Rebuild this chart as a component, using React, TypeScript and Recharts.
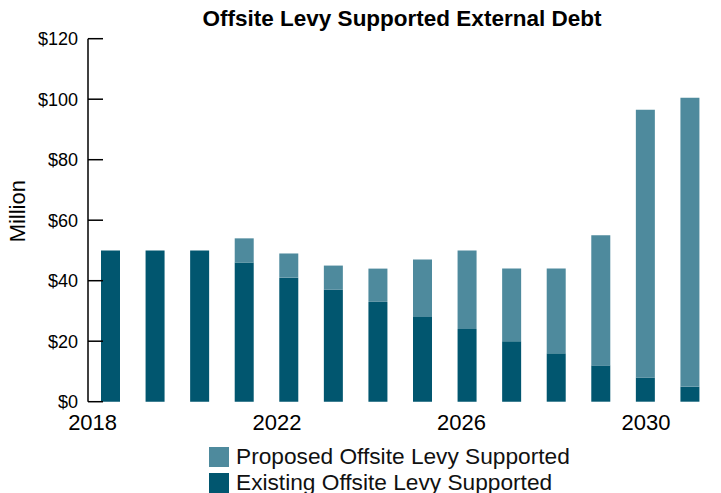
import React from 'react';
import { BarChart, Bar, XAxis, YAxis, Legend } from 'recharts';

const years = [2018, 2019, 2020, 2021, 2022, 2023, 2024, 2025, 2026, 2027, 2028, 2029, 2030, 2031];
const existing = [50, 50, 50, 46, 41, 37, 33, 28, 24, 20, 16, 12, 8, 5];
const proposed = [0, 0, 0, 8, 8, 8, 11, 19, 26, 24, 28, 43, 88.5, 95.5];
const yTicks = [0, 20, 40, 60, 80, 100, 120];
const labelYears = [2018, 2022, 2026, 2030];

const EXISTING = 'Existing Offsite Levy Supported';
const PROPOSED = 'Proposed Offsite Levy Supported';
const legendOrder = [PROPOSED, EXISTING];

const FONT = 'Arial, "Liberation Sans", sans-serif';

const data = years.map((year, i) => ({
  year,
  existing: existing[i],
  proposed: proposed[i],
}));

// tick marks sit between the bars, not under them
const boundaryTicks = years.map((y) => y + 0.5);

function LegendBox({ payload }: any) {
  const items = [...(payload || [])].sort(
    (a: any, b: any) => legendOrder.indexOf(a.value) - legendOrder.indexOf(b.value),
  );
  return (
    <div style={{ fontFamily: FONT, fontSize: 22.7, color: '#111' }}>
      {items.map((p: any) => (
        <div key={p.value} style={{ display: 'flex', alignItems: 'flex-start', height: 25.4, lineHeight: '25.4px', whiteSpace: 'nowrap' }}>
          <span style={{ display: 'inline-block', width: 20, height: 20, marginTop: 3, marginRight: 7, background: p.color }} />
          <span>{p.value}</span>
        </div>
      ))}
    </div>
  );
}

const NoLabel = () => <g />;

function MillionLabel({ viewBox }: any) {
  const x = viewBox.x + 17.5;
  const y = viewBox.y + viewBox.height / 2 - 9;
  return (
    <text
      x={x}
      y={y}
      transform={`rotate(-90, ${x}, ${y})`}
      textAnchor="middle"
      dominantBaseline="central"
      fontSize={22}
      fill="#000"
      fontFamily={FONT}
    >
      Million
    </text>
  );
}

export default function App() {
  return (
    <div style={{ position: 'absolute', left: 0, top: 0, width: 721, height: 493, background: '#fff' }}>
      <div
        style={{
          position: 'absolute', left: 0, top: 8.3, width: 804, textAlign: 'center',
          fontFamily: FONT, fontWeight: 'bold', fontSize: 22.5, lineHeight: '22.5px', color: '#000',
        }}
      >
        Offsite Levy Supported External Debt
      </div>
      <BarChart
        width={721}
        height={493}
        data={data}
        margin={{ top: 38.7, right: 9, bottom: 61.3, left: 0 }}
        barSize={19}
      >
        <XAxis xAxisId="a_cat" dataKey="year" type="category" hide height={0} />
        <XAxis
          xAxisId="b_marks"
          dataKey="year"
          type="number"
          domain={[2017.5, 2031.5]}
          ticks={boundaryTicks}
          tick={NoLabel}
          height={0}
          mirror
          tickSize={8}
          axisLine={{ stroke: '#000', strokeWidth: 1.5 }}
          tickLine={{ stroke: '#000', strokeWidth: 1.5 }}
        />
        <XAxis
          xAxisId="c_labels"
          dataKey="year"
          type="number"
          domain={[2017.9, 2031.43]}
          ticks={labelYears}
          axisLine={false}
          tickLine={false}
          tickSize={0}
          tickMargin={13}
          height={30}
          tick={{ fontSize: 22, fill: '#000', fontFamily: FONT }}
        />
        <YAxis
          width={88}
          domain={[0, 120]}
          ticks={yTicks}
          tickFormatter={(v: number) => `$${v}`}
          tickSize={-15}
          tickMargin={25}
          axisLine={{ stroke: '#000', strokeWidth: 1.5 }}
          tickLine={{ stroke: '#000', strokeWidth: 1.5 }}
          tick={{ fontSize: 18, fill: '#000', fontFamily: FONT }}
          label={MillionLabel}
        />
        <Legend
          layout="horizontal"
          verticalAlign="middle"
          align="center"
          wrapperStyle={{ left: 209, top: 444.3, width: 'auto' }}
          content={<LegendBox />}
        />
        <Bar xAxisId="a_cat" dataKey="existing" name={EXISTING} stackId="a" fill="#01566F" isAnimationActive={false} />
        <Bar xAxisId="a_cat" dataKey="proposed" name={PROPOSED} stackId="a" fill="#4E8A9D" isAnimationActive={false} />
      </BarChart>
    </div>
  );
}
